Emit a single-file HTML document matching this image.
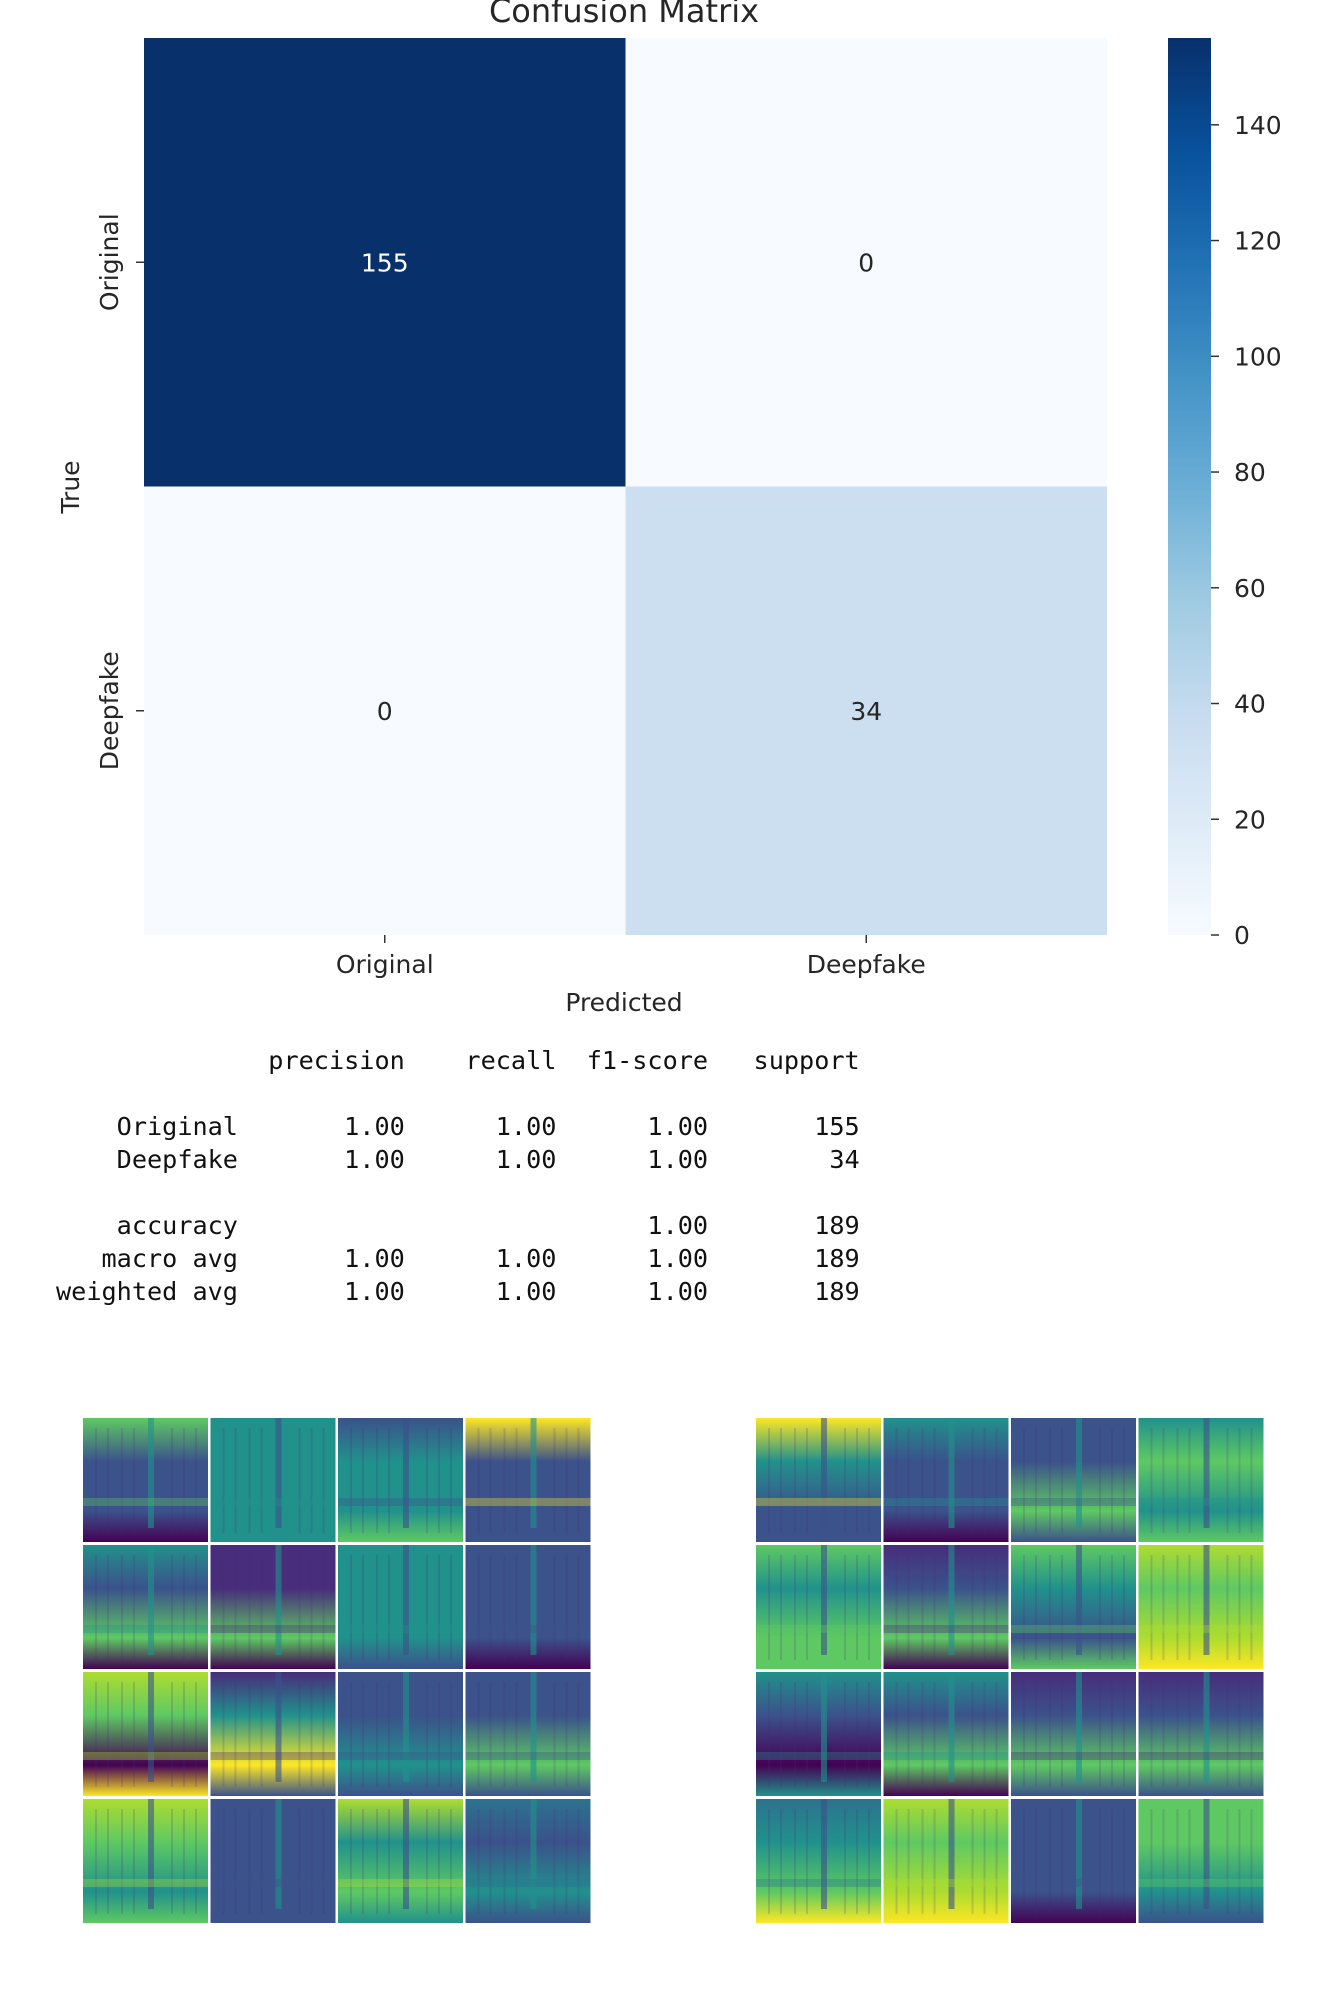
<!DOCTYPE html>
<html><head><meta charset="utf-8">
<style>
body{margin:0;background:#fff;width:1333px;height:2000px;overflow:hidden;font-family:"DejaVu Sans","Liberation Sans",sans-serif;}
#wrap{position:relative;width:1333px;height:2000px;}
pre{position:absolute;left:56px;top:1044px;margin:0;font-family:"DejaVu Sans Mono","Liberation Mono",monospace;font-size:25.2px;line-height:33px;color:#111;}
</style></head>
<body><div id="wrap">
<svg id="cm" width="1333" height="1030" style="position:absolute;left:0;top:0">
<defs><linearGradient id="blues" x1="0" y1="1" x2="0" y2="0">
<stop offset="0" stop-color="#f7fbff"/><stop offset="0.125" stop-color="#deebf7"/><stop offset="0.25" stop-color="#c6dbef"/><stop offset="0.375" stop-color="#9ecae1"/><stop offset="0.5" stop-color="#6baed6"/><stop offset="0.625" stop-color="#4292c6"/><stop offset="0.75" stop-color="#2171b5"/><stop offset="0.875" stop-color="#08519c"/><stop offset="1" stop-color="#08306b"/></linearGradient></defs>
<g id="cells"></g>
</svg>
<pre>              precision    recall  f1-score   support

    Original       1.00      1.00      1.00       155
    Deepfake       1.00      1.00      1.00        34

    accuracy                           1.00       189
   macro avg       1.00      1.00      1.00       189
weighted avg       1.00      1.00      1.00       189</pre>
<svg id="sp" width="1333" height="600" style="position:absolute;left:0;top:1400px"><defs id="spdefs"></defs></svg>
</div>
<script>
const categories=["Original","Deepfake"];
const matrixValues=[[155,0],[0,34]];
const cbTicks=[0,20,40,60,80,100,120,140];
const vmax=155;
const NS="http://www.w3.org/2000/svg";
function mk(t,a,p){const e=document.createElementNS(NS,t);for(const k in a)e.setAttribute(k,a[k]);p.appendChild(e);return e;}
const X0=144,X1=1107,Y0=38,Y1=935;
const cw=(X1-X0)/2,ch=(Y1-Y0)/2;
const blues=[[247,251,255],[222,235,247],[198,219,239],[158,202,225],[107,174,214],[66,146,198],[33,113,181],[8,81,156],[8,48,107]];
function blue(v){let t=v/vmax*8;let i=Math.min(7,Math.floor(t)),f=t-i;const a=blues[i],b=blues[i+1];return `rgb(${a.map((c,k)=>Math.round(c+(b[k]-c)*f)).join(',')})`;}
function cy(v){return Y1-v/vmax*(Y1-Y0);}
const svg=document.getElementById('cm');const g=document.getElementById('cells');
const txt=(s,x,y,a,p)=>{const t=mk('text',Object.assign({x:x,y:y,'font-size':25,fill:'#262626','text-anchor':'middle'},a),p||svg);t.textContent=s;return t;};
matrixValues.forEach((row,r)=>row.forEach((v,c)=>{
 const rc=mk('rect',{x:X0+c*cw,y:Y0+r*ch,width:cw,height:ch,fill:blue(v)},g);
 
 
 const t=txt(String(v),X0+c*cw+cw/2,Y0+r*ch+ch/2+9,{fill:v>80?'#fff':'#262626'});
 
 
}));
const title=txt('Confusion Matrix',624,22,{'font-size':32});


categories.forEach((c,i)=>{
 const x=X0+i*cw+cw/2;
 mk('line',{x1:x,x2:x,y1:Y1,y2:Y1+8,stroke:'#333','stroke-width':1.5},svg);
 const t=txt(c,x,973,{});
 
 
 const y=Y0+i*ch+ch/2;
 mk('line',{x1:X0-8,x2:X0,y1:y,y2:y,stroke:'#333','stroke-width':1.5},svg);
 const t2=txt(c,0,0,{transform:`translate(118,${y}) rotate(-90)`});
 
 
});
const xl=txt('Predicted',624,1011,{});


const yl=txt('True',0,0,{transform:'translate(79,487) rotate(-90)'});


const cb=mk('rect',{x:1168,y:cy(vmax),width:43,height:Y1-cy(vmax),fill:'url(#blues)'},svg);


cbTicks.forEach(v=>{
 mk('line',{x1:1211,x2:1219,y1:cy(v),y2:cy(v),stroke:'#333','stroke-width':1.5},svg);
 const t=txt(String(v),1234,cy(v)+9,{'text-anchor':'start'});
 
 
});
const V={d:'#440154',p:'#472d7b',b:'#3b528b',s:'#2c728e',t:'#21918c',q:'#28ae80',g:'#5ec962',l:'#addc30',y:'#fde725'};
const leftCells=[["gbbd","tttt","bttg","ybbb"],["tbgd","ppgd","tttb","bbbd"],["lgdy","ptyb","bbtb","bbgb"],["lgtg","bbbb","ltgt","sbtb"]];
const rightCells=[["ytbb","tbbd","bbgb","tgtg"],["gtgg","pbgd","gtbg","lgly"],["tbdt","tbgd","pbgb","pbgb"],["stgy","lgly","bbbd","ggtb"]];
const sp=document.getElementById('sp'),defs=document.getElementById('spdefs');let gid=0;
function grid(cells,x0,name){
 const G=mk('g',{},sp);
 cells.forEach((row,r)=>row.forEach((code,c)=>{
  const id='sg'+(gid++);const lg=mk('linearGradient',{id:id,x1:0,y1:0,x2:0,y2:1},defs);
  [0,0.35,0.75,1].forEach((o,k)=>mk('stop',{offset:o,'stop-color':V[code[k]]},lg));
  const x=x0+c*127.5,y=18+r*127;
  const rc=mk('rect',{x:x,y:y,width:125,height:124,fill:`url(#${id})`},G);
  
  
  [12,24,38,50,88,100,112].forEach(o=>mk('rect',{x:x+o,y:y+10,width:2,height:105,fill:V.p,opacity:0.18},G));
  mk('rect',{x:x+65,y:y,width:6,height:110,fill:V[code[1]==='b'||code[1]==='p'?'t':'b'],opacity:0.6},G);
  mk('rect',{x:x,y:y+80,width:125,height:8,fill:V[code[0]],opacity:0.35},G);
 }));
}
grid(leftCells,83,'original-spectrogram-grid');
grid(rightCells,756,'deepfake-spectrogram-grid');
</script>
</body></html>
